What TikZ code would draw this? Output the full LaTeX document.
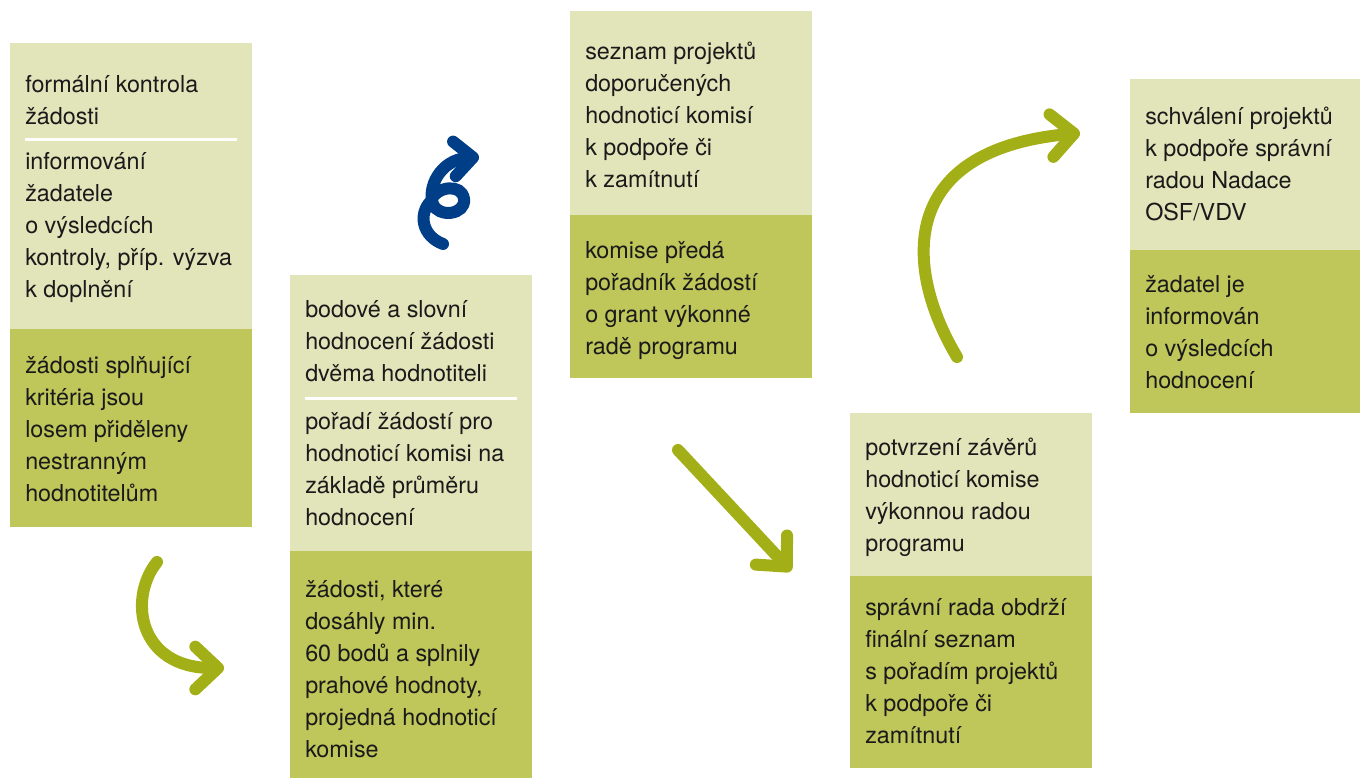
\documentclass[tikz,border=0pt]{standalone}
\usepackage{fontspec}
\setmainfont{TeX Gyre Heros}
\usepackage{tikz}
\usetikzlibrary{arrows.meta}

\definecolor{litegreen}{HTML}{E2E5BA}
\definecolor{darkgreen}{HTML}{BFC65A}
\definecolor{arrowgreen}{HTML}{A3AF16}
\definecolor{spiralblue}{HTML}{003F87}
\definecolor{inktext}{HTML}{1A1A1A}
\newdimen\pxu \pxu=0.75pt

\begin{document}
\begin{tikzpicture}[x=0.75pt, y=-0.75pt,
    box/.style={inner sep=0pt, outer sep=0pt, anchor=north west, minimum width=242\pxu},
    lite/.style={box, fill=litegreen},
    dark/.style={box, fill=darkgreen},
    txt/.style={anchor=north west, yshift=12.6pt, inner sep=0pt, align=left, text=inktext,
        font=\fontsize{17.5}{24}\selectfont, execute at begin node=\strut},
    sep/.style={white, line width=2.25pt},
    arr/.style={line width=9pt, line cap=round,
        -{Straight Barb[length=17pt, width=32pt, line cap=round, line join=round]}}]
    \useasboundingbox (0,0) rectangle (1360,778);

    % step 1
    \node[lite, minimum height=286\pxu] at (10,43)  (B1a) {};
    \node[dark, minimum height=198\pxu] at (10,329) (B1b) {};
    \node[txt] at (25,92)  (T1a) {formální kontrola\\žádosti};
    \draw[sep] (25,139) -- (237,139);
    \node[txt] at (25,169) (T1b) {informování\\žadatele\\o výsledcích\\kontroly, příp. výzva\\k doplnění};
    \node[txt] at (25,373) (T1c) {žádosti splňující\\kritéria jsou\\losem přiděleny\\nestranným\\hodnotitelům};

    % step 2
    \node[lite, minimum height=276\pxu] at (290,275) (B2a) {};
    \node[dark, minimum height=227\pxu] at (290,551) (B2b) {};
    \node[txt] at (305,317) (T2a) {bodové a slovní\\hodnocení žádosti\\dvěma hodnotiteli};
    \draw[sep] (305,398) -- (517,398);
    \node[txt] at (305,429) (T2b) {pořadí žádostí pro\\hodnoticí komisi na\\základě průměru\\hodnocení};
    \node[txt] at (305,597) (T2c) {žádosti, které\\dosáhly min.\\60 bodů a splnily\\prahové hodnoty,\\projedná hodnoticí\\komise};

    % step 3
    \node[lite, minimum height=204\pxu] at (570,11)  (B3a) {};
    \node[dark, minimum height=163\pxu] at (570,215) (B3b) {};
    \node[txt] at (585,59)  (T3a) {seznam projektů\\doporučených\\hodnoticí komisí\\k podpoře či\\k zamítnutí};
    \node[txt] at (585,258) (T3b) {komise předá\\pořadník žádostí\\o grant výkonné\\radě programu};

    % step 4
    \node[lite, minimum height=163\pxu] at (850,413) (B4a) {};
    \node[dark, minimum height=192\pxu] at (850,576) (B4b) {};
    \node[txt] at (865,455) (T4a) {potvrzení závěrů\\hodnoticí komise\\výkonnou radou\\programu};
    \node[txt] at (865,615) (T4b) {správní rada obdrží\\finální seznam\\s pořadím projektů\\k podpoře či\\zamítnutí};

    % step 5
    \node[lite, minimum height=171\pxu, minimum width=230\pxu] at (1130,79)  (B5a) {};
    \node[dark, minimum height=163\pxu, minimum width=230\pxu] at (1130,250) (B5b) {};
    \node[txt] at (1145,124) (T5a) {schválení projektů\\k podpoře správní\\radou Nadace\\OSF/VDV};
    \node[txt] at (1145,292) (T5b) {žadatel je\\informován\\o výsledcích\\hodnocení};

    % arrows
    \coordinate (A1s) at (157,562);
    \coordinate (A1e) at (224,668);
    \coordinate (A2s) at (443,244);
    \coordinate (A2e) at (479,157);
    \coordinate (A3s) at (678,450);
    \coordinate (A3e) at (791,571);
    \coordinate (A4s) at (957,357);
    \coordinate (A4e) at (1080,133);

    \draw[arr, arrowgreen] (A1s) .. controls (128,598) and (138,668) .. (A1e);
    \draw[arr, spiralblue, -{Straight Barb[length=14pt, width=26pt, line cap=round, line join=round]}]
        (A2s) .. controls (422,236) and (418,214) .. (431,201)
              .. controls (436,186) and (462,183) .. (464,199)
              .. controls (466,215) and (438,218) .. (433,204)
              .. controls (427,188) and (440,160) .. (A2e);
    \draw[arr, arrowgreen] (A3s) -- (A3e);
    \draw[arr, arrowgreen] (A4s) .. controls (905,270) and (895,150) .. (A4e);
\end{tikzpicture}
\end{document}
